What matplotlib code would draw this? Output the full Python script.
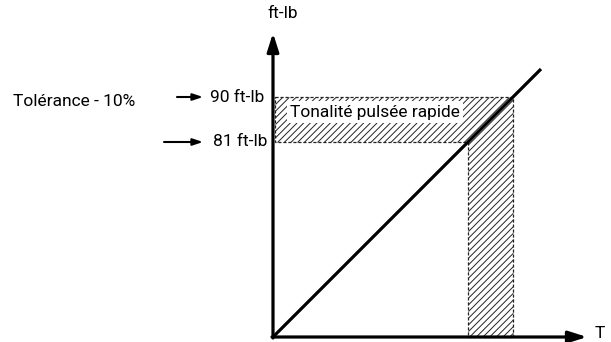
import matplotlib.pyplot as plt
from matplotlib.patches import Polygon

plt.rcParams['font.family'] = ['Roboto', 'DejaVu Sans']
plt.rcParams['hatch.linewidth'] = 0.7

# schematic units: the torque line is torque = T
torque_levels = [240, 195]          # 90 ft-lb, 81 ft-lb
torque_labels = ['90 ft-lb', '81 ft-lb']
t_at_levels = [240, 195]            # where the line crosses each level
line_t = [0, 268]
line_torque = [0, 268]
band_label = 'Tonalité pulsée rapide'
tol_label = 'Tolérance - 10%'
y_name = 'ft-lb'
x_name = 'T'


def main():
    fig = plt.figure(figsize=(6.11, 3.42), dpi=100)
    ax = fig.add_axes([0, 0, 1, 1])
    ax.set_xlim(-273, 338)
    ax.set_ylim(-5, 337)
    ax.axis('off')

    hi, lo = torque_levels
    t_hi, t_lo = t_at_levels[0], t_at_levels[1]
    # hatched zone: band between the two levels + column under it
    zone = Polygon([(2, hi), (t_hi, hi), (t_hi, 0), (t_lo, 0), (t_lo, lo), (2, lo)],
                   closed=True, fill=False, hatch='/////', edgecolor='#222222',
                   linewidth=0.9, linestyle=(0, (2.5, 1.5)), zorder=1)
    ax.add_patch(zone)

    ax.text(17, 225, band_label, fontsize=12.5, va='center', ha='left', zorder=2,
            bbox=dict(facecolor='white', edgecolor='none', pad=2.5))

    # torque line
    ax.plot(line_t, line_torque, color='black', lw=2.3, solid_capstyle='butt', zorder=3)

    # axes with arrows
    ax.annotate('', xy=(0, 304), xytext=(0, -1),
                arrowprops=dict(arrowstyle='-|>,head_length=1.1,head_width=0.35',
                                lw=2.3, color='black', shrinkA=0, shrinkB=0), zorder=4)
    ax.annotate('', xy=(314, 0), xytext=(-1, 0),
                arrowprops=dict(arrowstyle='-|>,head_length=1.1,head_width=0.35',
                                lw=2.3, color='black', shrinkA=0, shrinkB=0), zorder=4)
    ax.text(10, 324, y_name, fontsize=12.5, ha='center', va='center')
    ax.text(327, 3, x_name, fontsize=12.5, ha='center', va='center')

    # level labels with little arrows
    arrow_start = [-96, -109]
    text_x = [-63, -60]
    for lvl, lab, x0, tx in zip(torque_levels, torque_labels, arrow_start, text_x):
        ax.annotate('', xy=(-70, lvl), xytext=(x0, lvl),
                    arrowprops=dict(arrowstyle='-|>,head_length=0.6,head_width=0.2',
                                    lw=1.5, color='black', shrinkA=0, shrinkB=0))
        ax.text(tx, lvl, lab, fontsize=12.5, ha='left', va='center')

    ax.text(-260, 235, tol_label, fontsize=12.5, ha='left', va='center')

    fig.savefig('out.png', dpi=100)
    plt.close(fig)


if __name__ == "__main__":
    main()
